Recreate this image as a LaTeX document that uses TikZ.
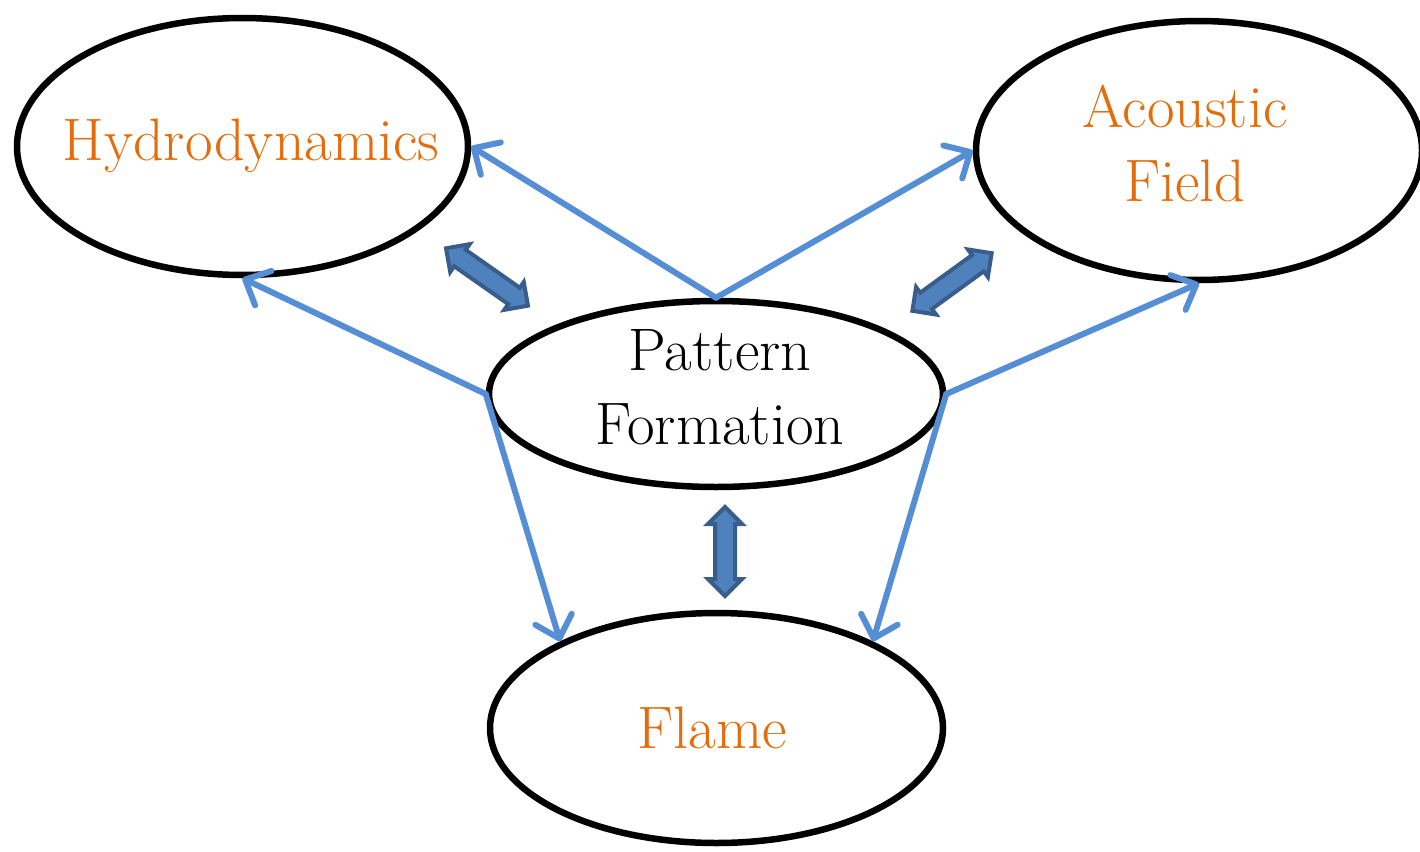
\documentclass[tikz,border=0pt]{standalone}
\usetikzlibrary{shapes.geometric,shapes.arrows,arrows.meta}
\definecolor{orangetxt}{HTML}{E46C0A}
\definecolor{linkblue}{HTML}{558ED5}
\definecolor{blockfill}{HTML}{4F81BD}
\definecolor{blockdraw}{HTML}{385D8A}
\begin{document}
\begin{tikzpicture}[x=1pt,y=-1pt,
  oval/.style={ellipse, draw=black, line width=6.5pt, inner sep=0pt},
  ovaltext/.style={align=center, font=\fontsize{60}{74}\selectfont},
  link/.style={draw=linkblue, line width=6pt, line cap=round, line join=round,
    -{Straight Barb[length=20pt,width=38pt,round]}},
  block/.style={double arrow, draw=blockdraw, fill=blockfill, line width=4pt,
    inner sep=8pt, double arrow head extend=7pt, minimum width=30pt}]
\useasboundingbox (0,0) rectangle (1420,851);
\node[oval, minimum width=451pt, minimum height=257pt] (H) at (242.5,146.5) {};
\node[oval, minimum width=446pt, minimum height=259pt] (A) at (1199,150.5) {};
\node[oval, minimum width=454pt, minimum height=186pt] (P) at (716,394) {};
\node[oval, minimum width=453pt, minimum height=230pt] (F) at (716.5,728) {};
\node[ovaltext, text=orangetxt] (Ht) at (251,146) {Hydrodynamics};
\node[ovaltext, text=orangetxt] (At) at (1185,144) {Acoustic\\Field};
\node[ovaltext, text=black] (Pt) at (720,387) {Pattern\\Formation};
\node[ovaltext, text=orangetxt] (Ft) at (712,728) {Flame};
\draw[link] (P.north) -- (H.east);
\draw[link] (P.north) -- (A.west);
\draw[link] (P.west) -- (H.south);
\draw[link] (P.east) -- (A.south);
\draw[link] (P.west) -- (F.151);
\draw[link] (P.east) -- (F.29);
\node[block, minimum height=100pt, rotate=-35] (B1) at (487,277) {};
\node[block, minimum height=98pt, rotate=36] (B2) at (952,282) {};
\node[block, minimum height=89pt, rotate=90] (B3) at (725,551.5) {};
\end{tikzpicture}
\end{document}
